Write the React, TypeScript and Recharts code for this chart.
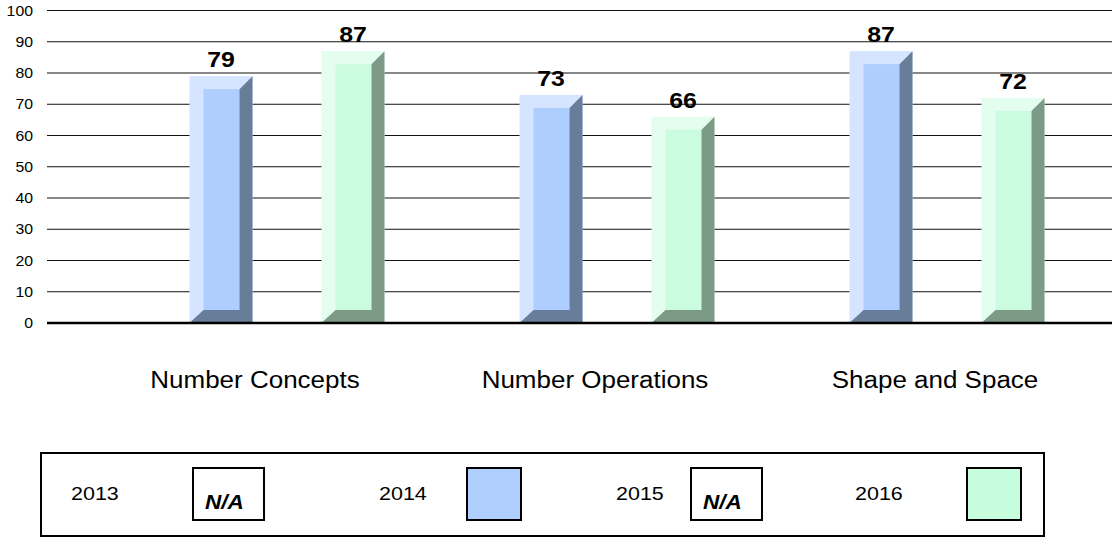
import React from 'react';
import { BarChart, Bar, XAxis, YAxis, CartesianGrid, ReferenceLine, LabelList } from 'recharts';

const categories = ['Number Concepts', 'Number Operations', 'Shape and Space'];
const values2013: (number | null)[] = [null, null, null];
const values2014: (number | null)[] = [79, 73, 87];
const values2015: (number | null)[] = [null, null, null];
const values2016: (number | null)[] = [87, 66, 72];
const seriesNames = ['2013', '2014', '2015', '2016'];
const yTicks = [0, 10, 20, 30, 40, 50, 60, 70, 80, 90, 100];

const data = categories.map((c, i) => ({
  category: c,
  s2013: values2013[i],
  s2014: values2014[i],
  s2015: values2015[i],
  s2016: values2016[i],
}));

const FONT = '"Liberation Sans", Arial, sans-serif';
const SX = 1.13;

const palettes: Record<string, { light: string; mid: string; dark: string }> = {
  blue: { light: '#D5E5FF', mid: '#ADCEFF', dark: '#687D99' },
  green: { light: '#E3FDEE', mid: '#CCFCDF', dark: '#7C9A86' },
  none: { light: 'none', mid: 'none', dark: 'none' },
};

const makeShape = (pal: { light: string; mid: string; dark: string }) => (props: any) => {
  const { x, y, width, height } = props;
  if (height == null || height <= 0 || pal.light === 'none') return <g />;
  const bl = 14;
  const br = 13;
  const bt = 13;
  const bb = 13;
  const x2 = x + width;
  const y2 = y + height;
  const dark = `${x2},${y} ${x2},${y2} ${x},${y2} ${x + bl},${y2 - bb} ${x2 - br},${y2 - bb} ${x2 - br},${y + bt}`;
  return (
    <g>
      <rect x={x} y={y} width={width} height={height} fill={pal.light} />
      <rect x={x + bl} y={y + bt} width={width - bl - br} height={height - bt - bb} fill={pal.mid} />
      <polygon points={dark} fill={pal.dark} />
    </g>
  );
};

const CategoryTick = (props: any) => {
  const { x, y, payload } = props;
  return (
    <text transform={`translate(${x},${y + 35}) scale(${SX},1)`} x={0} y={0} textAnchor="middle" fontFamily={FONT} fontSize={23} fill="#000">
      {payload.value}
    </text>
  );
};

const YTick = (props: any) => {
  const { x, y, payload } = props;
  return (
    <text transform={`translate(${x},${y + 5}) scale(${SX},1)`} x={0} y={0} textAnchor="end" fontFamily={FONT} fontSize={14} fill="#000">
      {payload.value}
    </text>
  );
};

const ValueLabel = (props: any) => {
  const { x, y, width, value } = props;
  if (value == null) return null;
  return (
    <text transform={`translate(${x + width / 2},${y - 9}) scale(${SX},1)`} x={0} y={0} textAnchor="middle" fontFamily={FONT} fontSize={22} fontWeight="bold" fill="#000">
      {value}
    </text>
  );
};

const legendSwatch: Record<string, { type: 'na' | 'fill'; color?: string }> = {
  '2013': { type: 'na' },
  '2014': { type: 'fill', color: '#AFCFFF' },
  '2015': { type: 'na' },
  '2016': { type: 'fill', color: '#C6FDDD' },
};
const legendTextX = [71, 379, 616, 855];
const legendBoxX = [192, 466, 690, 966];

export default function App() {
  return (
    <div style={{ position: 'absolute', left: 0, top: 0, width: 1112, height: 539, background: '#fff', overflow: 'hidden' }}>
      <BarChart
        width={1112}
        height={539}
        data={data}
        margin={{ top: 10.5, right: 0, bottom: 0, left: 0 }}
        barGap={3}
        barSize={63}
      >
        <CartesianGrid vertical={false} stroke="#111" strokeWidth={1} />
        <YAxis
          domain={[0, 100]}
          ticks={yTicks}
          width={47}
          axisLine={false}
          tickLine={false}
          tickSize={6}
          tickMargin={8}
          tick={<YTick />}
          interval={0}
        />
        <XAxis dataKey="category" xAxisId="bars" hide padding={{ left: 41.5, right: 33.5 }} />
        <XAxis
          dataKey="category"
          xAxisId="labels"
          height={216}
          axisLine={false}
          tickLine={false}
          tickSize={0}
          tickMargin={0}
          padding={{ left: 38, right: 7 }}
          tick={<CategoryTick />}
          interval={0}
        />
        <ReferenceLine y={0} xAxisId="bars" stroke="#000" strokeWidth={2.5} />
        <Bar dataKey="s2013" name={seriesNames[0]} xAxisId="bars" isAnimationActive={false} shape={makeShape(palettes.none)} />
        <Bar dataKey="s2014" name={seriesNames[1]} xAxisId="bars" isAnimationActive={false} shape={makeShape(palettes.blue)}>
          <LabelList dataKey="s2014" content={<ValueLabel />} />
        </Bar>
        <Bar dataKey="s2015" name={seriesNames[2]} xAxisId="bars" isAnimationActive={false} shape={makeShape(palettes.none)} />
        <Bar dataKey="s2016" name={seriesNames[3]} xAxisId="bars" isAnimationActive={false} shape={makeShape(palettes.green)}>
          <LabelList dataKey="s2016" content={<ValueLabel />} />
        </Bar>
      </BarChart>
      <div
        style={{
          position: 'absolute',
          left: 40,
          top: 452,
          width: 1005,
          height: 85,
          border: '2px solid #000',
          boxSizing: 'border-box',
          fontFamily: FONT,
        }}
      >
        {seriesNames.map((name, i) => {
          const sw = legendSwatch[name];
          return (
            <React.Fragment key={name}>
              <div
                style={{
                  position: 'absolute',
                  left: legendTextX[i] - 42,
                  top: 29,
                  fontSize: 19,
                  lineHeight: '22px',
                  color: '#000',
                  transform: `scaleX(${SX})`,
                  transformOrigin: 'left center',
                  whiteSpace: 'nowrap',
                }}
              >
                {name}
              </div>
              <div
                style={{
                  position: 'absolute',
                  left: legendBoxX[i] - 42,
                  top: 13,
                  width: sw.type === 'na' ? 73 : 56,
                  height: 54,
                  boxSizing: 'border-box',
                  border: '2px solid #000',
                  background: sw.type === 'fill' ? sw.color : '#fff',
                }}
              >
                {sw.type === 'na' ? (
                  <div
                    style={{
                      position: 'absolute',
                      left: 11,
                      top: 22,
                      fontSize: 20,
                      fontWeight: 'bold',
                      fontStyle: 'italic',
                      lineHeight: '22px',
                      transform: `scaleX(${SX})`,
                      transformOrigin: 'left center',
                      whiteSpace: 'nowrap',
                    }}
                  >
                    N/A
                  </div>
                ) : null}
              </div>
            </React.Fragment>
          );
        })}
      </div>
    </div>
  );
}
